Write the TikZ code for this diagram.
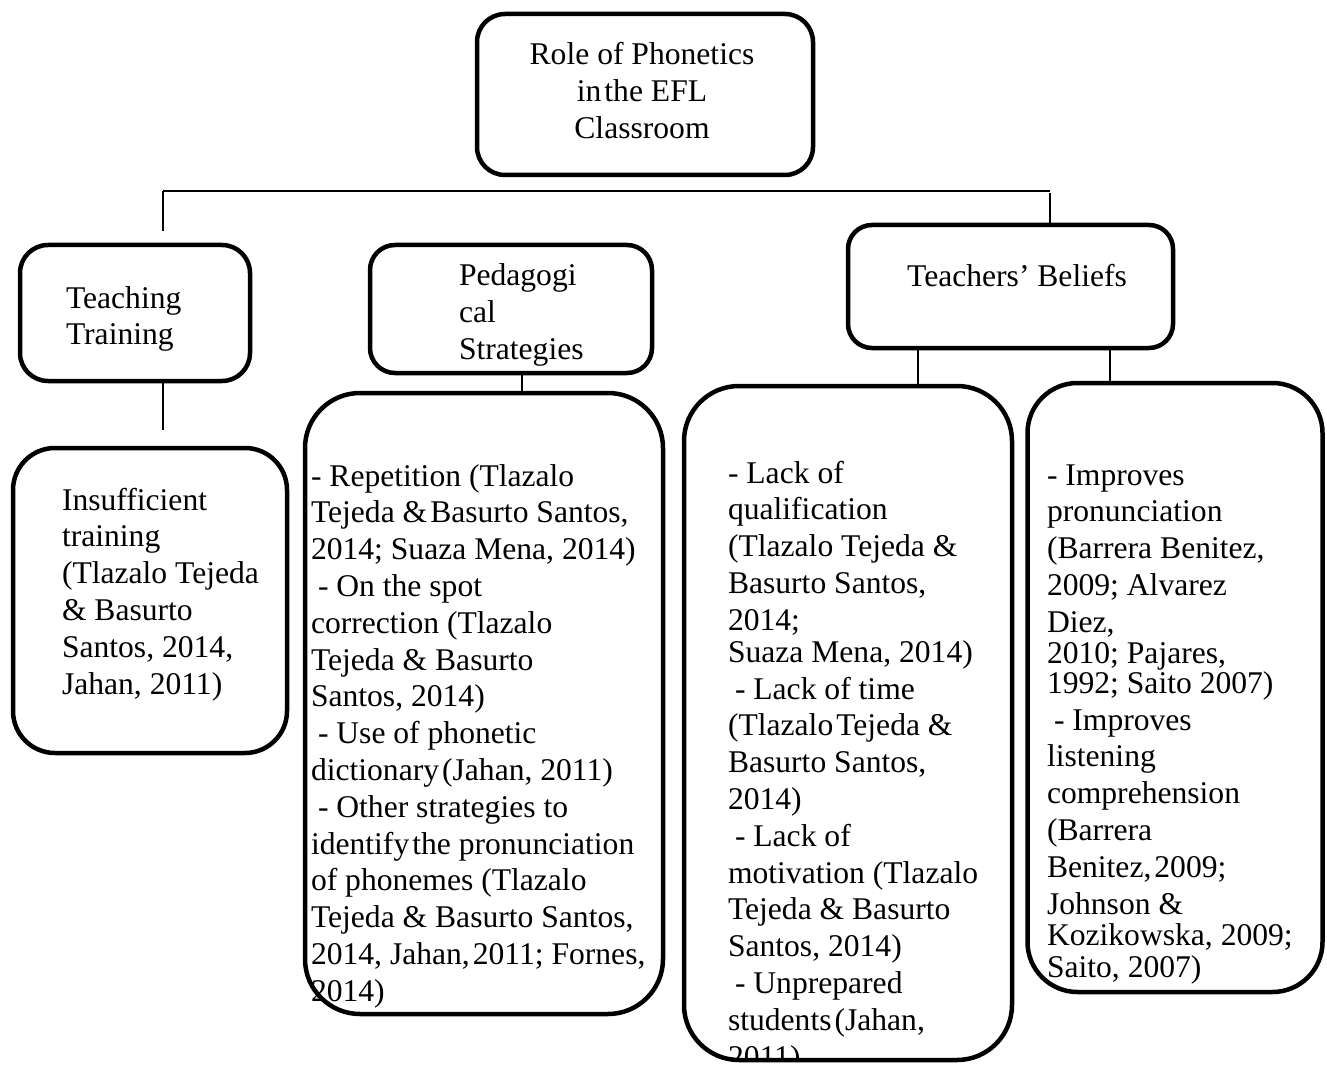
\documentclass[tikz,border=0pt]{standalone}
\usepackage{fontspec}
\setmainfont{Liberation Serif}
\newcommand{\bigtxt}{\fontsize{31.6pt}{36.8pt}\selectfont}
\newcommand{\txtpar}[2]{\parbox[t]{#1}{\bigtxt\raggedright #2}}
\newcommand{\ctrpar}[2]{\parbox[t]{#1}{\bigtxt\centering #2}}
\newcommand{\ls}{\hspace*{7pt}}
\newcommand{\ns}{\kern3pt}
\begin{document}
\begin{tikzpicture}[x=1pt,y=-1pt,
  box/.style={draw, line width=4.5pt, rectangle, inner sep=0pt},
  conn/.style={line width=1.5pt},
  txt/.style={inner sep=0pt, outer sep=0pt, font=\bigtxt}]
\useasboundingbox (0,0) rectangle (1327,1067);
% boxes
\node[box, minimum width=336pt, minimum height=161pt, rounded corners=28pt] (root) at (645,94.5) {};
\node[box, minimum width=230pt, minimum height=136pt, rounded corners=28pt] (teachT) at (135,313) {};
\node[box, minimum width=282pt, minimum height=128pt, rounded corners=25pt] (ped) at (511,309) {};
\node[box, minimum width=325pt, minimum height=123pt, rounded corners=24pt] (tb) at (1010.5,286.5) {};
\node[box, minimum width=274pt, minimum height=305pt, rounded corners=42pt] (insuf) at (150,600.5) {};
\node[box, minimum width=358pt, minimum height=621pt, rounded corners=55pt] (pedL) at (484,703.5) {};
\node[box, minimum width=328pt, minimum height=674pt, rounded corners=55pt] (lack) at (848,723) {};
\node[box, minimum width=295pt, minimum height=609pt, rounded corners=50pt] (impr) at (1175,687.5) {};
% connectors
\coordinate (hl) at (163,191);
\coordinate (hr) at (1050,191);
\coordinate (tTtop) at (163,231);
\coordinate (insTop) at (163,430);
\draw[conn] (hl) -- (hr);
\draw[conn] (hl) -- (tTtop);
\draw[conn] ([yshift=-2pt]hr) -- (hr |- tb.north);
\draw[conn] (teachT.south -| hl) -- (insTop);
\draw[conn] (ped.south -| 522,0) -- (pedL.north -| 522,0);
\draw[conn] (tb.south -| 918,0) -- (lack.north -| 918,0);
\draw[conn] (tb.south -| 1110,0) -- (impr.north -| 1110,0);
% texts
\node[txt, anchor=base] (rootT) at (642,65) {\ctrpar{320pt}{Role of Phonetics\\in\ns the EFL\\Classroom}};
\node[txt, anchor=base west] (teachTT) at (66,308) {\txtpar{180pt}{Teaching\\Training}};
\node[txt, anchor=base west] (pedT) at (459,286) {\txtpar{180pt}{Pedagogi\\cal\\Strategies}};
\node[txt, anchor=base] (tbT) at (1017,287) {Teachers’ Beliefs};
\node[txt, anchor=base west] (insufT) at (62,510) {\txtpar{230pt}{Insufficient\\training\\(Tlazalo Tejeda\\\& Basurto\\Santos, 2014,\\Jahan, 2011)}};
\node[txt, anchor=base west] (pedLT) at (311,486) {\txtpar{360pt}{- Repetition (Tlazalo\\Tejeda \&\ns Basurto Santos,\\2014; Suaza Mena, 2014)\\\ls- On the spot\\correction (Tlazalo\\Tejeda \& Basurto\\Santos, 2014)\\\ls- Use of phonetic\\dictionary\ns(Jahan, 2011)\\\ls- Other strategies to\\identify\ns the pronunciation\\of phonemes (Tlazalo\\Tejeda \& Basurto Santos,\\2014, Jahan,\ns 2011; Fornes,\\2014)}};
\begin{scope}
\clip[rounded corners=55pt] (684,386) rectangle (1012,1060);
\node[txt, anchor=base west] (lackT) at (728,483) {\txtpar{300pt}{- Lack of\\qualification\\(Tlazalo Tejeda \&\\Basurto Santos,\\2014;\\[-4.8pt]Suaza Mena, 2014)\\\ls- Lack of time\\(Tlazalo\ns Tejeda \&\\Basurto Santos,\\2014)\\\ls- Lack of\\motivation (Tlazalo\\Tejeda \& Basurto\\Santos, 2014)\\\ls- Unprepared\\students\ns(Jahan,\\2011)}};
\end{scope}
\node[txt, anchor=base west] (imprT) at (1047,485) {\txtpar{280pt}{- Improves\\pronunciation\\(Barrera Benitez,\\2009; Alvarez\\Diez,\\[-5.8pt]2010; Pajares,\\[-6.8pt]1992; Saito 2007)\\\ls- Improves\\listening\\comprehension\\(Barrera\\Benitez,\ns 2009;\\Johnson \&\\[-5.8pt]Kozikowska, 2009;\\[-4.8pt]Saito, 2007)}};
\end{tikzpicture}
\end{document}
